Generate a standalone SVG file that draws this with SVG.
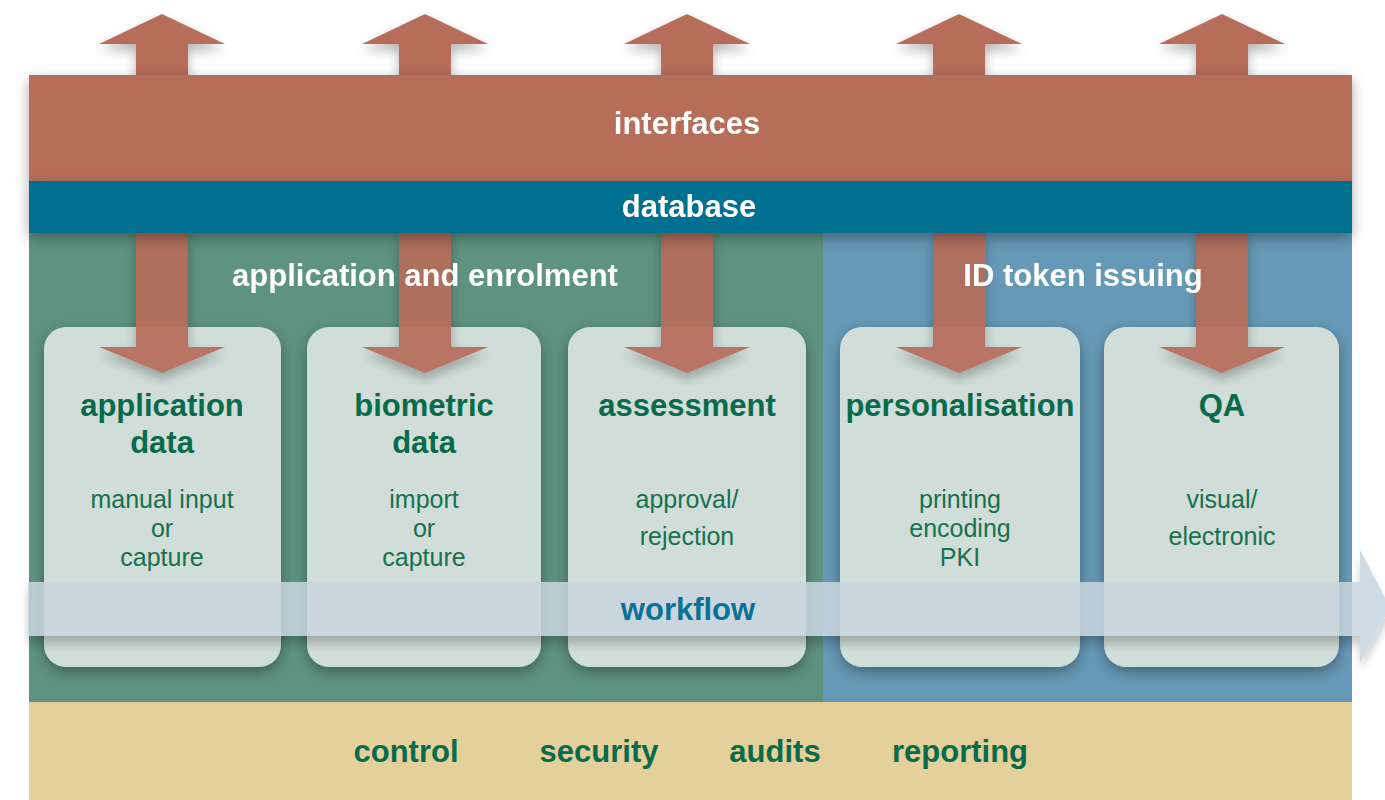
<svg xmlns="http://www.w3.org/2000/svg" width="1385" height="800" viewBox="0 0 1385 800">
<defs>
<style>
.bt{font-family:"Liberation Sans",Arial,sans-serif;font-weight:bold;font-size:31px;text-anchor:middle}
.w{fill:#ffffff}
.g{fill:#0a6b4c}
.st{font-family:"Liberation Sans",Arial,sans-serif;font-size:25px;text-anchor:middle;fill:#17714f}
.box{fill:#d0ddd8}
.arr{fill:#b66d5a}
</style>
<filter id="sh" x="-10%" y="-20%" width="120%" height="160%">
<feGaussianBlur in="SourceAlpha" stdDeviation="7"/>
<feOffset dy="5"/>
<feComponentTransfer><feFuncA type="linear" slope="0.35"/></feComponentTransfer>
<feMerge><feMergeNode/><feMergeNode in="SourceGraphic"/></feMerge>
</filter>
<filter id="ash" x="-30%" y="-20%" width="160%" height="160%">
<feGaussianBlur in="SourceAlpha" stdDeviation="6"/>
<feOffset dy="6"/>
<feComponentTransfer><feFuncA type="linear" slope="0.3"/></feComponentTransfer>
<feMerge><feMergeNode/><feMergeNode in="SourceGraphic"/></feMerge>
</filter>
<filter id="wsh" x="-5%" y="-30%" width="110%" height="180%">
<feGaussianBlur in="SourceAlpha" stdDeviation="5"/>
<feOffset dy="8"/>
<feComponentTransfer><feFuncA type="linear" slope="0.25"/></feComponentTransfer>
<feMerge><feMergeNode/><feMergeNode in="SourceGraphic"/></feMerge>
</filter>
<path id="up" d="M-26,90 V44 H-63 L0,14 L63,44 H26 V90 Z"/>
<path id="down" d="M-26,233 V347 H-63 L0,373 L63,347 H26 V233 Z"/>
</defs>
<rect width="1385" height="800" fill="#ffffff"/>

<g id="bottom-bar">
<rect x="29" y="702" width="1323" height="98" fill="#e3d09b"/>
<text class="bt g" x="406" y="762">control</text>
<text class="bt g" x="599" y="762">security</text>
<text class="bt g" x="775" y="762">audits</text>
<text class="bt g" x="960" y="762">reporting</text>
</g>

<g id="application-enrolment-area">
<rect x="29" y="233" width="794" height="469" fill="#5e9281"/>
</g>
<g id="id-token-issuing-area">
<rect x="823" y="233" width="529" height="469" fill="#6699b5"/>
</g>

<g id="box-application-data">
<rect class="box" x="44" y="327" width="237" height="340" rx="22" filter="url(#sh)"/>
<text class="bt g" x="162" y="416">application</text>
<text class="bt g" x="162" y="453">data</text>
<text class="st" x="162" y="508">manual input</text>
<text class="st" x="162" y="537">or</text>
<text class="st" x="162" y="566">capture</text>
</g>
<g id="box-biometric-data">
<rect class="box" x="307" y="327" width="234" height="340" rx="22" filter="url(#sh)"/>
<text class="bt g" x="424" y="416">biometric</text>
<text class="bt g" x="424" y="453">data</text>
<text class="st" x="424" y="508">import</text>
<text class="st" x="424" y="537">or</text>
<text class="st" x="424" y="566">capture</text>
</g>
<g id="box-assessment">
<rect class="box" x="568" y="327" width="238" height="340" rx="22" filter="url(#sh)"/>
<text class="bt g" x="687" y="416">assessment</text>
<text class="st" x="687" y="508">approval/</text>
<text class="st" x="687" y="545">rejection</text>
</g>
<g id="box-personalisation">
<rect class="box" x="840" y="327" width="240" height="340" rx="22" filter="url(#sh)"/>
<text class="bt g" x="960" y="416">personalisation</text>
<text class="st" x="960" y="508">printing</text>
<text class="st" x="960" y="537">encoding</text>
<text class="st" x="960" y="566">PKI</text>
</g>
<g id="box-qa">
<rect class="box" x="1104" y="327" width="235" height="340" rx="22" filter="url(#sh)"/>
<text class="bt g" x="1222" y="416">QA</text>
<text class="st" x="1222" y="508">visual/</text>
<text class="st" x="1222" y="545">electronic</text>
</g>

<g id="connectors">
<g class="arr" filter="url(#ash)">
<use href="#up" x="162"/>
<use href="#up" x="425"/>
<use href="#up" x="687"/>
<use href="#up" x="959"/>
<use href="#up" x="1222"/>
</g>
<g class="arr" opacity="0.93" filter="url(#ash)">
<use href="#down" x="162"/>
<use href="#down" x="425"/>
<use href="#down" x="687"/>
<use href="#down" x="959"/>
<use href="#down" x="1222"/>
</g>
</g>

<g id="interfaces" filter="url(#sh)">
<rect x="29" y="75" width="1323" height="106" fill="#b66d5a"/>
</g>
<g id="database" filter="url(#sh)">
<rect x="29" y="181" width="1323" height="52" fill="#016f91"/>
</g>
<text class="bt w" x="687" y="134">interfaces</text>
<text class="bt w" x="689" y="217">database</text>

<g id="application-enrolment-label">
<text class="bt w" x="425" y="286">application and enrolment</text>
</g>
<g id="id-token-issuing-label">
<text class="bt w" x="1083" y="286">ID token issuing</text>
</g>

<g id="workflow">
<path d="M28,582 H1360 V550 L1390,607 L1360,663 V636 H28 Z" fill="#c8d6e0" opacity="0.86" filter="url(#wsh)"/>
<text class="bt" x="688" y="620" fill="#0b7195">workflow</text>
</g>
</svg>
